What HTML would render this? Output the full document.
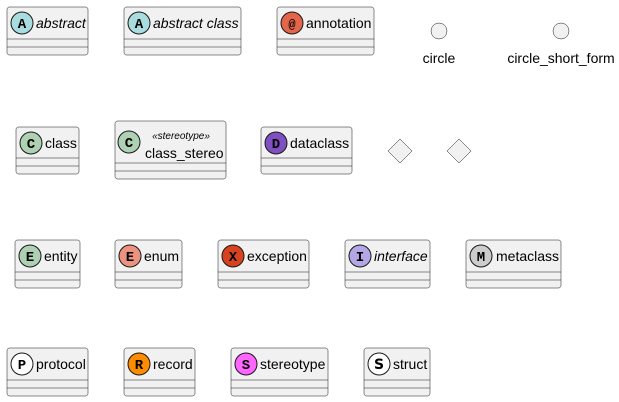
<!DOCTYPE html>
<html><head><meta charset="utf-8"><style>html,body{margin:0;padding:0;background:#fff}svg{display:block}text{font-family:"Liberation Sans",sans-serif}</style></head><body>
<svg width="619" height="402" viewBox="0 0 619 402" xmlns="http://www.w3.org/2000/svg">
<defs>
<g id="x"></g>
</defs>
<g stroke="#181818" stroke-width="0.5" fill="#F1F1F1">
<!-- row1 -->
<rect x="7" y="7" width="81" height="48" rx="2.5"/>
<rect x="124" y="7" width="117" height="48" rx="2.5"/>
<rect x="277" y="7" width="97" height="48" rx="2.5"/>
<!-- row2 -->
<rect x="16" y="127" width="63" height="47" rx="2.5"/>
<rect x="115" y="121" width="111" height="58" rx="2.5"/>
<rect x="261" y="127" width="91" height="47" rx="2.5"/>
<!-- row3 -->
<rect x="15" y="240" width="65" height="48" rx="2.5"/>
<rect x="115" y="240" width="67" height="48" rx="2.5"/>
<rect x="218" y="240" width="91" height="48" rx="2.5"/>
<rect x="345" y="240" width="85" height="48" rx="2.5"/>
<rect x="466" y="240" width="95" height="48" rx="2.5"/>
<!-- row4 -->
<rect x="7" y="348" width="81" height="48" rx="2.5"/>
<rect x="124" y="348" width="71" height="48" rx="2.5"/>
<rect x="231" y="348" width="97" height="48" rx="2.5"/>
<rect x="364" y="348" width="66" height="48" rx="2.5"/>
<!-- circles and diamonds -->
<circle cx="439" cy="31" r="8"/>
<circle cx="561" cy="31" r="8"/>
<polygon points="400,139 412,151 400,163 388,151"/>
<polygon points="459,139 471,151 459,163 447,151"/>
</g>
<g stroke="#181818" stroke-width="0.5">
<path d="M7 39H88M7 47H88M124 39H241M124 47H241M277 39H374M277 47H374"/>
<path d="M16 158H79M16 166H79M115 163H226M115 171H226M261 158H352M261 166H352"/>
<path d="M15 272H80M15 280H80M115 272H182M115 280H182M218 272H309M218 280H309M345 272H430M345 280H430M466 272H561M466 280H561"/>
<path d="M7 380H88M7 388H88M124 380H195M124 388H195M231 380H328M231 388H328M364 380H430M364 388H430"/>
</g>
<g stroke="#181818" stroke-width="1">
<circle cx="22" cy="23" r="11" fill="#A9DCDF"/>
<circle cx="139" cy="23" r="11" fill="#A9DCDF"/>
<circle cx="292" cy="23" r="11" fill="#E3664A"/>
<circle cx="31" cy="143" r="11" fill="#ADD1B2"/>
<circle cx="129" cy="142" r="11" fill="#ADD1B2"/>
<circle cx="276" cy="143" r="11" fill="#7E50C0"/>
<circle cx="30" cy="256" r="11" fill="#ADD1B2"/>
<circle cx="130" cy="256" r="11" fill="#EB937F"/>
<circle cx="233" cy="256" r="11" fill="#D8431F"/>
<circle cx="360" cy="256" r="11" fill="#B4A7E5"/>
<circle cx="481" cy="256" r="11" fill="#CCCCCC"/>
<circle cx="22" cy="364" r="11" fill="#FFFFFF"/>
<circle cx="139" cy="364" r="11" fill="#FF8C00"/>
<circle cx="246" cy="364" r="11" fill="#FF66FF"/>
<circle cx="379" cy="364" r="11" fill="#FFFFFF"/>
</g>
<g font-family="Liberation Mono,monospace" font-weight="bold" font-size="14" text-anchor="middle" fill="#000">
<text x="22" y="28" style="font-family:'Liberation Mono',monospace">A</text>
<text x="139" y="28" style="font-family:'Liberation Mono',monospace">A</text>
<text x="292" y="28" style="font-family:'Liberation Mono',monospace" font-size="12">@</text>
<text x="31" y="148" style="font-family:'Liberation Mono',monospace">C</text>
<text x="129" y="147" style="font-family:'Liberation Mono',monospace">C</text>
<text x="276" y="148" style="font-family:'Liberation Mono',monospace">D</text>
<text x="30" y="261" style="font-family:'Liberation Mono',monospace">E</text>
<text x="130" y="261" style="font-family:'Liberation Mono',monospace">E</text>
<text x="233" y="261" style="font-family:'Liberation Mono',monospace">X</text>
<text x="360" y="261" style="font-family:'Liberation Mono',monospace">I</text>
<text x="481" y="261" style="font-family:'Liberation Mono',monospace">M</text>
<text x="22" y="369" style="font-family:'Liberation Mono',monospace">P</text>
<text x="139" y="369" style="font-family:'Liberation Mono',monospace">R</text>
<text x="246" y="369" style="font-family:'Liberation Mono',monospace">S</text>
<text x="379" y="369" style="font-family:'Sans',sans-serif;font-family:'DejaVu Sans',sans-serif">S</text>
</g>
<g font-size="14" fill="#000">
<text x="36" y="28" font-style="italic">abstract</text>
<text x="153" y="28" font-style="italic">abstract class</text>
<text x="306" y="28">annotation</text>
<text x="439" y="63" text-anchor="middle">circle</text>
<text x="561" y="63" text-anchor="middle">circle_short_form</text>
<text x="45" y="148">class</text>
<text x="145" y="158">class_stereo</text>
<text x="181" y="139" font-size="10" font-style="italic" text-anchor="middle">«stereotype»</text>
<text x="290" y="148">dataclass</text>
<text x="44" y="261">entity</text>
<text x="144" y="261">enum</text>
<text x="247" y="261">exception</text>
<text x="374" y="261" font-style="italic">interface</text>
<text x="496" y="261">metaclass</text>
<text x="36" y="369">protocol</text>
<text x="153" y="369">record</text>
<text x="260" y="369">stereotype</text>
<text x="393" y="369">struct</text>
</g>
</svg>
</body></html>
